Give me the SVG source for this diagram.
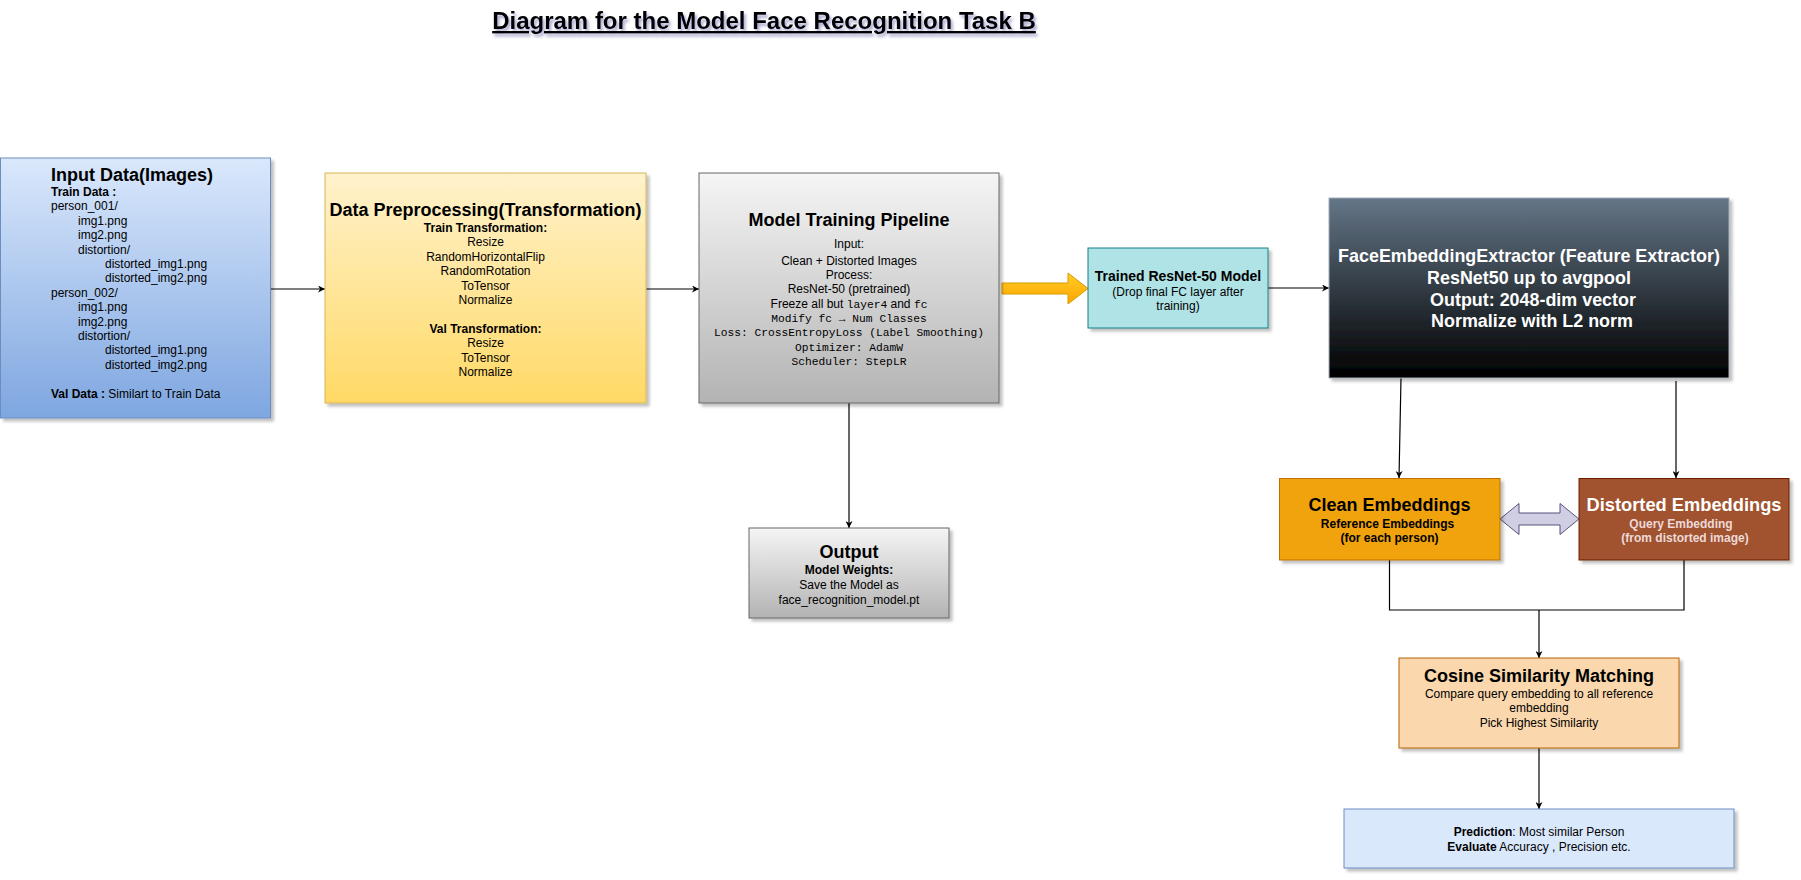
<svg xmlns="http://www.w3.org/2000/svg" width="1801" height="880" viewBox="0 0 1801 880">
<style>
text{font-family:"Liberation Sans",Arial,sans-serif;fill:#000}
.t12{font-size:12px}
.b{font-weight:bold}
.c{text-anchor:middle}
.mono{font-family:"Liberation Mono","DejaVu Sans Mono",monospace;font-size:11.25px}
.h18{font-size:18px;font-weight:bold}
.edge{fill:none;stroke:#000;stroke-width:1.2}
.arr{marker-end:url(#ah)}
</style>
<defs>
<filter id="sh" x="-10%" y="-10%" width="130%" height="130%">
<feDropShadow dx="3" dy="3" stdDeviation="1.6" flood-color="#000" flood-opacity="0.25"/>
</filter>
<filter id="tsh" x="-5%" y="-30%" width="110%" height="180%">
<feDropShadow dx="2" dy="3" stdDeviation="1.8" flood-color="#3a3a8a" flood-opacity="0.45"/>
</filter>
<linearGradient id="gBlue" x1="0" y1="0" x2="0" y2="1"><stop offset="0" stop-color="#dae8fc"/><stop offset="1" stop-color="#7ea6e0"/></linearGradient>
<linearGradient id="gYel" x1="0" y1="0" x2="0" y2="1"><stop offset="0" stop-color="#fff2cc"/><stop offset="1" stop-color="#ffd966"/></linearGradient>
<linearGradient id="gGray" x1="0" y1="0" x2="0" y2="1"><stop offset="0" stop-color="#f5f5f5"/><stop offset="1" stop-color="#b3b3b3"/></linearGradient>
<linearGradient id="gDark" x1="0" y1="0" x2="0" y2="1"><stop offset="0" stop-color="#647687"/><stop offset="1" stop-color="#000000"/></linearGradient>
<linearGradient id="gOr" x1="0" y1="0" x2="0" y2="1"><stop offset="0" stop-color="#ffcd28"/><stop offset="1" stop-color="#ffa500"/></linearGradient>
<marker id="ah" viewBox="0 0 10 10" refX="10" refY="5" markerWidth="7" markerHeight="7" markerUnits="userSpaceOnUse" orient="auto">
<path d="M0,0 L10,5 L0,10 L3,5 z" fill="#000"/>
</marker>
</defs>
<rect width="1801" height="880" fill="#ffffff"/>

<g id="title">
<text x="764" y="29" class="c b" font-size="24" text-decoration="underline" filter="url(#tsh)">Diagram for the Model Face Recognition Task B</text>
</g>

<g id="connectors">
<path class="edge arr" d="M271,289 H325"/>
<path class="edge arr" d="M646,289 H699"/>
<path class="edge arr" d="M849,403 V528"/>
<path d="M1002,283 H1068 V273 L1088,288.5 L1068,304 V294 H1002 Z" fill="url(#gOr)" stroke="#d79b00" stroke-width="1"/>
<path class="edge arr" d="M1268,288 H1329"/>
<path class="edge arr" d="M1401,378 L1399,478"/>
<path class="edge arr" d="M1676,381 V478"/>
<path d="M1500,519 L1519,503.5 V513 H1560 V503.5 L1579,519 L1560,534.5 V525 H1519 V534.5 Z" fill="#d0cee2" stroke="#56517e" stroke-width="1"/>
<path class="edge" d="M1389.5,560 V610 H1684 V560"/>
<path class="edge arr" d="M1539,610 V658"/>
<path class="edge arr" d="M1539,748 V809"/>
</g>

<g id="input-data">
<rect x="0.5" y="158" width="270" height="260" fill="url(#gBlue)" stroke="#6c8ebf" filter="url(#sh)"/>
<text x="51" y="181" font-size="18" class="b">Input Data(Images)</text>
<text class="t12 b" x="51" y="196">Train Data :</text>
<text class="t12" x="51" y="210.4">person_001/</text>
<text class="t12" x="78" y="224.8">img1.png</text>
<text class="t12" x="78" y="239.2">img2.png</text>
<text class="t12" x="78" y="253.6">distortion/</text>
<text class="t12" x="105" y="268">distorted_img1.png</text>
<text class="t12" x="105" y="282.4">distorted_img2.png</text>
<text class="t12" x="51" y="296.8">person_002/</text>
<text class="t12" x="78" y="311.2">img1.png</text>
<text class="t12" x="78" y="325.6">img2.png</text>
<text class="t12" x="78" y="340">distortion/</text>
<text class="t12" x="105" y="354.4">distorted_img1.png</text>
<text class="t12" x="105" y="368.8">distorted_img2.png</text>
<text class="t12" x="51" y="397.6"><tspan class="b">Val Data :</tspan> Similart to Train Data</text>
</g>

<g id="preprocessing">
<rect x="325" y="173" width="321" height="230" fill="url(#gYel)" stroke="#d6b656" filter="url(#sh)"/>
<text x="485.5" y="216" class="c h18">Data Preprocessing(Transformation)</text>
<text x="485.5" y="232" class="c t12 b">Train Transformation:</text>
<text x="485.5" y="246.4" class="c t12">Resize</text>
<text x="485.5" y="260.8" class="c t12">RandomHorizontalFlip</text>
<text x="485.5" y="275.2" class="c t12">RandomRotation</text>
<text x="485.5" y="289.6" class="c t12">ToTensor</text>
<text x="485.5" y="304" class="c t12">Normalize</text>
<text x="485.5" y="332.8" class="c t12 b">Val Transformation:</text>
<text x="485.5" y="347.2" class="c t12">Resize</text>
<text x="485.5" y="361.6" class="c t12">ToTensor</text>
<text x="485.5" y="376" class="c t12">Normalize</text>
</g>

<g id="training-pipeline">
<rect x="699" y="173" width="300" height="230" fill="url(#gGray)" stroke="#666666" filter="url(#sh)"/>
<text x="849" y="226" class="c h18">Model Training Pipeline</text>
<text x="849" y="248" class="c t12">Input:</text>
<text x="849" y="265" class="c t12">Clean + Distorted Images</text>
<text x="849" y="279.3" class="c t12">Process:</text>
<text x="849" y="292.6" class="c t12">ResNet-50 (pretrained)</text>
<text x="849" y="308" class="c t12">Freeze all but <tspan class="mono">layer4</tspan> and <tspan class="mono">fc</tspan></text>
<text x="849" y="322" class="c mono">Modify fc → Num Classes</text>
<text x="849" y="336.3" class="c mono">Loss: CrossEntropyLoss (Label Smoothing)</text>
<text x="849" y="351" class="c mono">Optimizer: AdamW</text>
<text x="849" y="365.3" class="c mono">Scheduler: StepLR</text>
</g>

<g id="output">
<rect x="749" y="528" width="200" height="90" fill="url(#gGray)" stroke="#666666" filter="url(#sh)"/>
<text x="849" y="557.5" class="c h18">Output</text>
<text x="849" y="574" class="c t12 b">Model Weights:</text>
<text x="849" y="589" class="c t12">Save the Model as</text>
<text x="849" y="603.5" class="c t12">face_recognition_model.pt</text>
</g>

<g id="trained-model">
<rect x="1088" y="248" width="180" height="80" fill="#b0e3e6" stroke="#0e8088" filter="url(#sh)"/>
<text x="1178" y="281" class="c b" font-size="14">Trained ResNet-50 Model</text>
<text x="1178" y="295.5" class="c t12">(Drop final FC layer after</text>
<text x="1178" y="309.5" class="c t12">training)</text>
</g>

<g id="embedding-extractor">
<rect x="1329" y="198" width="400" height="180" fill="url(#gDark)" stroke="#a3acb9" filter="url(#sh)"/>
<text x="1529" y="262" class="c b" font-size="17.9" style="fill:#fff">FaceEmbeddingExtractor (Feature Extractor)</text>
<text x="1529" y="284" class="c b" font-size="17.9" style="fill:#fff">ResNet50 up to avgpool</text>
<text x="1533" y="305.5" class="c b" font-size="17.9" style="fill:#fff">Output: 2048-dim vector</text>
<text x="1532" y="327" class="c b" font-size="17.9" style="fill:#fff">Normalize with L2 norm</text>
</g>

<g id="clean-embeddings">
<rect x="1279.5" y="478.5" width="220.5" height="81.5" fill="#f0a30a" stroke="#bd7000" filter="url(#sh)"/>
<text x="1389.5" y="510.5" class="c h18">Clean Embeddings</text>
<text x="1387.5" y="528" class="c t12 b">Reference Embeddings</text>
<text x="1389.5" y="542" class="c t12 b">(for each person)</text>
</g>

<g id="distorted-embeddings">
<rect x="1579" y="478.5" width="210" height="81.5" fill="#a0522d" stroke="#6d1f00" filter="url(#sh)"/>
<text x="1684" y="510.5" class="c b" font-size="18.3" style="fill:#fff">Distorted Embeddings</text>
<text x="1681" y="528" class="c t12 b" style="fill:#eed9d9">Query Embedding</text>
<text x="1685" y="542" class="c t12 b" style="fill:#eed9d9">(from distorted image)</text>
</g>

<g id="cosine-matching">
<rect x="1399" y="658" width="280" height="90" fill="#fad7ac" stroke="#b46504" filter="url(#sh)"/>
<text x="1539" y="681.5" class="c h18">Cosine Similarity Matching</text>
<text x="1539" y="698" class="c t12">Compare query embedding to all reference</text>
<text x="1539" y="712.4" class="c t12">embedding</text>
<text x="1539" y="726.5" class="c t12">Pick Highest Similarity</text>
</g>

<g id="prediction">
<rect x="1344" y="809" width="390" height="59" fill="#dae8fc" stroke="#6c8ebf" filter="url(#sh)"/>
<text x="1539" y="836" class="c t12"><tspan class="b">Prediction</tspan>: Most similar Person</text>
<text x="1539" y="851" class="c t12"><tspan class="b">Evaluate</tspan> Accuracy , Precision etc.</text>
</g>
</svg>
